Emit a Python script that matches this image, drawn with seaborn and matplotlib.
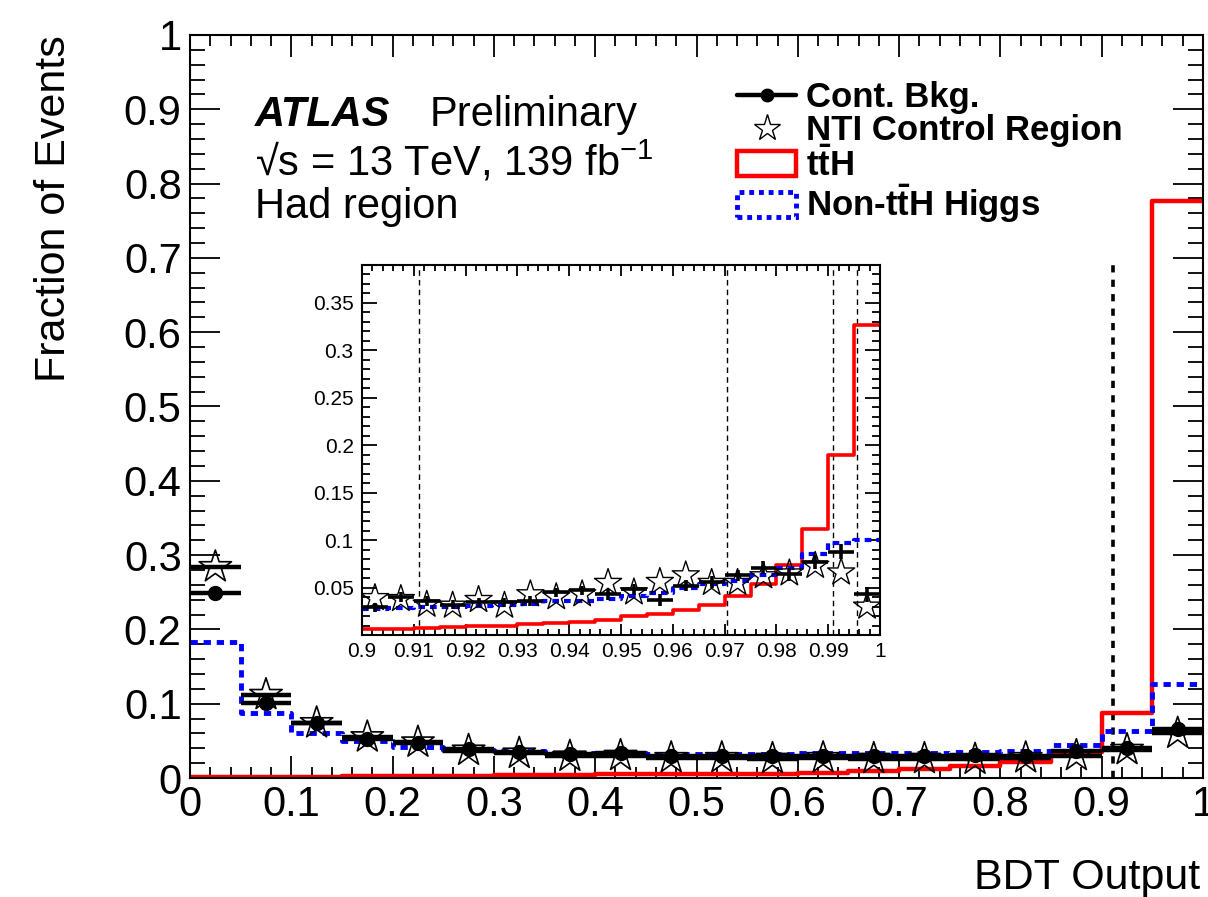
import numpy as np
import matplotlib
matplotlib.use('Agg')
import matplotlib.pyplot as plt
from matplotlib.lines import Line2D
from matplotlib.patches import Patch
from matplotlib.ticker import MultipleLocator, FuncFormatter
import seaborn as sns

# ---- main histogram, 20 bins of 0.05 in BDT output ----
main_edges = np.linspace(0.0, 1.0, 21)
cont_bkg = [0.249, 0.101, 0.074, 0.053, 0.047, 0.039, 0.035, 0.032, 0.033, 0.030,
            0.029, 0.029, 0.029, 0.030, 0.030, 0.031, 0.029, 0.036, 0.041, 0.066]
nti_cr = [0.284, 0.112, 0.074, 0.055, 0.048, 0.037, 0.033, 0.029, 0.030, 0.027,
          0.027, 0.026, 0.027, 0.026, 0.026, 0.025, 0.027, 0.030, 0.038, 0.060]
tth = [0.002, 0.002, 0.002, 0.003, 0.003, 0.003, 0.004, 0.004, 0.005, 0.005,
       0.006, 0.006, 0.007, 0.010, 0.012, 0.016, 0.022, 0.035, 0.087, 0.777]
non_tth = [0.183, 0.088, 0.061, 0.050, 0.042, 0.038, 0.036, 0.034, 0.033, 0.032,
           0.032, 0.032, 0.033, 0.033, 0.034, 0.035, 0.036, 0.045, 0.063, 0.126]

# ---- inset, 20 bins of 0.005 between 0.9 and 1 ----
ins_edges = np.linspace(0.9, 1.0, 21)
ins_bkg = [0.029, 0.040, 0.036, 0.032, 0.0345, 0.0345, 0.036, 0.045, 0.047, 0.043,
           0.048, 0.037, 0.052, 0.056, 0.063, 0.071, 0.064, 0.077, 0.088, 0.043]
ins_bkg_err = [0.005, 0.005, 0.005, 0.005, 0.005, 0.005, 0.005, 0.005, 0.005, 0.006,
               0.006, 0.006, 0.006, 0.006, 0.006, 0.007, 0.007, 0.007, 0.008, 0.008]
ins_nti = [0.039, 0.038, 0.032, 0.031, 0.037, 0.031, 0.043, 0.040, 0.043, 0.055,
           0.045, 0.056, 0.063, 0.055, 0.055, 0.062, 0.065, 0.073, 0.066, 0.030]
ins_tth = [0.0062, 0.0068, 0.0075, 0.0082, 0.009, 0.010, 0.0112, 0.0125, 0.014, 0.0163,
           0.0197, 0.0222, 0.0268, 0.032, 0.0408, 0.0542, 0.0743, 0.112, 0.19, 0.327]
ins_non_tth = [0.027, 0.0285, 0.030, 0.030, 0.031, 0.032, 0.033, 0.0355, 0.036, 0.038,
               0.041, 0.044, 0.0497, 0.054, 0.057, 0.063, 0.071, 0.0855, 0.097, 0.100]

main_cut = 0.911
main_cut_top = 0.70
ins_cuts = [0.911, 0.9705, 0.991, 0.9955]

sns.set_theme(style='ticks')
plt.rcParams['font.family'] = ['Liberation Sans', 'DejaVu Sans']
plt.rcParams['mathtext.fontset'] = 'custom'
plt.rcParams['mathtext.rm'] = 'Liberation Sans'
plt.rcParams['mathtext.it'] = 'Liberation Sans:italic'
plt.rcParams['mathtext.bf'] = 'Liberation Sans:bold'
plt.rcParams['axes.linewidth'] = 1.5
for k in ['text.color', 'axes.labelcolor', 'xtick.color', 'ytick.color', 'axes.edgecolor']:
    plt.rcParams[k] = 'black'


def step_hist(ax, edges, vals, **kw):
    # draw a histogram outline through seaborn, steps-post style
    yy = np.append(vals, vals[-1])
    sns.lineplot(x=edges, y=yy, drawstyle='steps-post', ax=ax, legend=False, sort=False, **kw)


def root_ticks(ax, xmaj, xmin, ymaj, ymin, xl, yl, lsize):
    ax.xaxis.set_major_locator(MultipleLocator(xmaj))
    ax.xaxis.set_minor_locator(MultipleLocator(xmin))
    ax.yaxis.set_major_locator(MultipleLocator(ymaj))
    ax.yaxis.set_minor_locator(MultipleLocator(ymin))
    ax.tick_params(which='both', direction='in', top=True, right=True, colors='black', width=1.3)
    ax.tick_params(axis='x', which='major', length=xl, labelsize=lsize, pad=5)
    ax.tick_params(axis='x', which='minor', length=xl / 2)
    ax.tick_params(axis='y', which='major', length=yl, labelsize=lsize, pad=6)
    ax.tick_params(axis='y', which='minor', length=yl / 2)
    fmt = FuncFormatter(lambda v, p: '%g' % round(v, 4))
    ax.xaxis.set_major_formatter(fmt)
    ax.yaxis.set_major_formatter(fmt)


fig = plt.figure(figsize=(12.08, 8.97), dpi=100)
ax = fig.add_axes([190 / 1208, 119 / 897, 1013 / 1208, 743 / 897])

centres = 0.5 * (main_edges[:-1] + main_edges[1:])
half = 0.5 * np.diff(main_edges)

step_hist(ax, main_edges, tth, color='#ff0000', linewidth=3.2, zorder=2)
step_hist(ax, main_edges, non_tth, color='#0000ff', linewidth=3.5, zorder=2)
ax.lines[-1].set_dashes([1.5, 1.2])

ax.errorbar(centres, nti_cr, xerr=half, fmt='none', ecolor='black', elinewidth=3.2, capsize=0, zorder=3)
ax.errorbar(centres, cont_bkg, xerr=half, yerr=0.002, fmt='o', color='black', ms=10,
            elinewidth=3.2, capsize=0, zorder=4)
# hollow stars on top, as ROOT draws open markers
sns.scatterplot(x=centres, y=nti_cr, marker='*', s=600, facecolor='none', edgecolor='black',
                linewidth=1.2, ax=ax, zorder=5, legend=False)

ax.vlines(main_cut, 0, main_cut_top, colors='black', linestyles=(0, (2, 2)), linewidth=2.6, zorder=1)

ax.set_xlim(0, 1)
ax.set_ylim(0, 1)
root_ticks(ax, 0.1, 0.02, 0.1, 0.02, 16, 21.5, 30)
ax.set_xlabel('')
ax.set_ylabel('')

fig.text(54 / 1208, 1 - 35 / 897, 'Fraction of Events', rotation=90, ha='center', va='top', fontsize=31)
fig.text(1200 / 1208, 1 - 878 / 897, 'BDT Output', ha='right', va='center', fontsize=31)

ax.text(0.064, 0.892, 'ATLAS', transform=ax.transAxes, fontsize=30, weight='bold', style='italic', va='center')
ax.text(0.237, 0.892, 'Preliminary', transform=ax.transAxes, fontsize=30, va='center')
ax.text(0.064, 0.829, '\u221as = 13 TeV, 139 fb$^{-1}$', transform=ax.transAxes,
        fontsize=30, va='center')
ax.text(0.064, 0.768, 'Had region', transform=ax.transAxes, fontsize=30, va='center')

handles = [
    Line2D([], [], color='black', lw=3.2, marker='o', ms=9),
    Line2D([], [], color='black', lw=0, marker='*', ms=20, mfc='white', mec='black', mew=1.0),
    Patch(facecolor='none', edgecolor='#ff0000', linewidth=3.2),
    Patch(facecolor='none', edgecolor='#0000ff', linewidth=3.5, linestyle=(0, (1, 1))),
]
labels = ['Cont. Bkg.', 'NTI Control Region', r'$\mathbf{t\bar{t}H}$', r'Non-$\mathbf{t\bar{t}H}$ Higgs']
ax.legend(handles, labels, loc='upper left', bbox_to_anchor=(0.54, 0.938), frameon=False,
          prop=dict(weight='bold', size=25), handlelength=1.7, handleheight=0.75,
          handletextpad=0.3, labelspacing=0.0, borderpad=0, borderaxespad=0)

# ---- inset ----
axi = fig.add_axes([362 / 1208, (897 - 635) / 897, 518 / 1208, 370 / 897])
icent = 0.5 * (ins_edges[:-1] + ins_edges[1:])
ihalf = 0.5 * np.diff(ins_edges)

for c in ins_cuts:
    axi.axvline(c, color='black', linestyle=(0, (4, 3)), linewidth=1.0, zorder=1)
step_hist(axi, ins_edges, ins_tth, color='#ff0000', linewidth=2.6, zorder=2)
step_hist(axi, ins_edges, ins_non_tth, color='#0000ff', linewidth=3.0, zorder=2)
axi.lines[-1].set_dashes([1.6, 1.2])
axi.errorbar(icent, ins_bkg, xerr=ihalf, yerr=ins_bkg_err, fmt='none', ecolor='black',
             elinewidth=2.6, capsize=0, zorder=3)
sns.scatterplot(x=icent, y=ins_nti, marker='*', s=420, facecolor='none', edgecolor='black',
                linewidth=1.0, ax=axi, zorder=4, legend=False)

axi.set_xlim(0.9, 1.0)
axi.set_ylim(0, 0.39)
root_ticks(axi, 0.01, 0.002, 0.05, 0.01, 8, 11, 15)
axi.yaxis.set_major_formatter(FuncFormatter(lambda v, p: '' if v == 0 else '%g' % round(v, 4)))
axi.set_xlabel('')
axi.set_ylabel('')

fig.savefig('out.png', dpi=100)
